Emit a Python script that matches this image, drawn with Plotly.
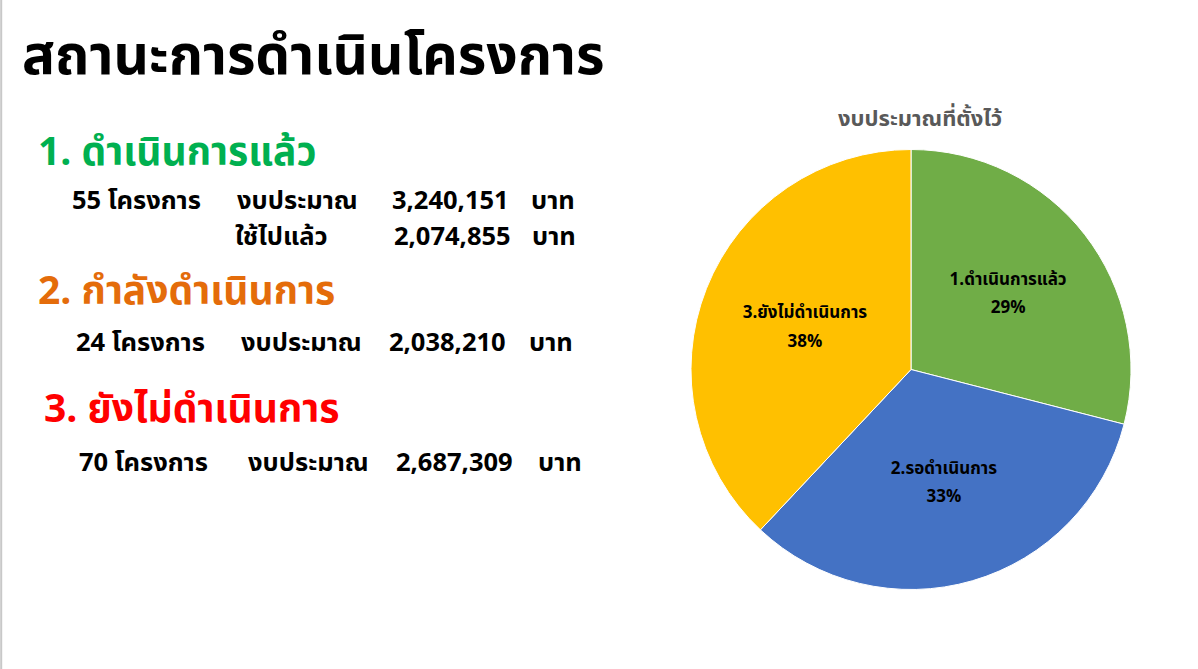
import plotly.graph_objects as go

# ---- data ----
pie_labels = ["1.ดำเนินการแล้ว", "2.รอดำเนินการ", "3.ยังไม่ดำเนินการ"]
pie_values = [29, 33, 38]
pie_colors = ["#70AD47", "#4472C4", "#FFC000"]

status_titles = ["1. ดำเนินการแล้ว", "2. กำลังดำเนินการ", "3. ยังไม่ดำเนินการ"]
status_colors = ["#00B050", "#E46C0A", "#FF0000"]
project_counts = [55, 24, 70]
budgets = ["3,240,151", "2,038,210", "2,687,309"]
used_amount = "2,074,855"

W, H = 1198, 669
FONT = "Noto Sans Thai, Kanit, Noto Sans, sans-serif"

fig = go.Figure()
fig.add_trace(go.Pie(
    labels=pie_labels, values=pie_values, sort=False, direction="clockwise",
    rotation=0, marker=dict(colors=pie_colors, line=dict(color="white", width=1)),
    texttemplate=("<span style='font-size:17px'><b>%{label}</b></span><br> <br>"
                  "<span style='font-size:17px'><b>%{percent:.0%}</b></span>"),
    textposition="inside",
    insidetextorientation="horizontal",
    textfont=dict(family=FONT, size=11, color="black"),
    domain=dict(x=[691 / W, 1131 / W], y=[1 - 590 / H, 1 - 149 / H]),
    showlegend=False, hoverinfo="label+percent",
))


def px(x):
    return x / W


def py(y):
    return 1 - y / H


ann = []


def add(text, x, y, size, color="black", xanchor="left"):
    ann.append(dict(text=f"<b>{text}</b>", x=px(x), y=py(y), xref="paper", yref="paper",
                    xanchor=xanchor, yanchor="middle", showarrow=False,
                    font=dict(family=FONT, size=size, color=color)))


R = 25.5
HS = 39
add("สถานะการดำเนินโครงการ", 20, 58, 55)
add("งบประมาณที่ตั้งไว้", 920, 120, 22, color="#595959", xanchor="center")

# section 1
add(status_titles[0], 36, 154, HS, status_colors[0])
add(f"{project_counts[0]} โครงการ", 70, 201, R)
add("งบประมาณ", 235, 201, R)
add(budgets[0], 390, 201, R)
add("บาท", 529, 201, R)
add("ใช้ไปแล้ว", 233, 237, R)
add(used_amount, 392, 237, R)
add("บาท", 530, 237, R)

# section 2
add(status_titles[1], 36, 292, HS, status_colors[1])
add(f"{project_counts[1]} โครงการ", 74, 343, R)
add("งบประมาณ", 239, 343, R)
add(budgets[1], 387, 343, R)
add("บาท", 527, 343, R)

# section 3
add(status_titles[2], 42, 410, HS, status_colors[2])
add(f"{project_counts[2]} โครงการ", 77, 463, R)
add("งบประมาณ", 246, 463, R)
add(budgets[2], 394, 463, R)
add("บาท", 536, 463, R)

fig.update_layout(
    width=W, height=H, margin=dict(l=0, r=0, t=0, b=0),
    paper_bgcolor="white", plot_bgcolor="white",
    annotations=ann,
    shapes=[dict(type="line", xref="paper", yref="paper", x0=0.001, x1=0.001, y0=0, y1=1,
                 line=dict(color="#C8C8C8", width=2))],
)

fig.write_html("out.html")
